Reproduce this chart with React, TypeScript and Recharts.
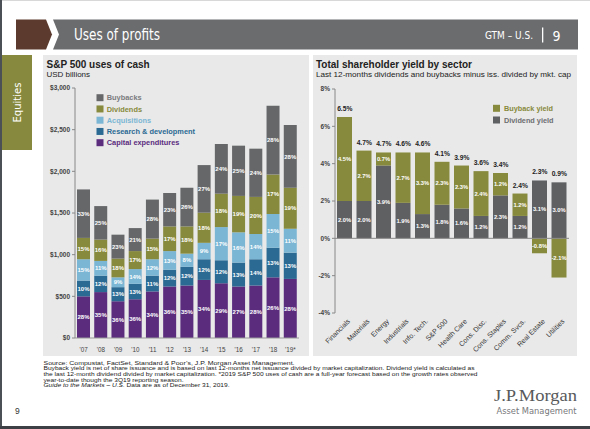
import React from 'react';
import { BarChart, ComposedChart, Bar, Line, XAxis, YAxis, ReferenceLine, LabelList } from 'recharts';

// S&P 500 uses of cash, USD billions
const years = ["'07", "'08", "'09", "'10", "'11", "'12", "'13", "'14", "'15", "'16", "'17", "'18", "'19*"];
const capex = [500, 551, 441, 465, 559, 618, 630, 697, 657, 618, 630, 728, 709];
const research = [189, 197, 169, 185, 189, 201, 224, 248, 276, 287, 315, 355, 315];
const acquisitions = [256, 177, 118, 177, 197, 224, 158, 197, 398, 363, 303, 405, 287];
const dividends = [256, 256, 225, 216, 248, 296, 327, 362, 401, 437, 445, 473, 492];
const buybacks = [582, 402, 287, 276, 468, 401, 464, 571, 596, 603, 579, 827, 753];

// share of total printed inside each segment
const capexPct = [28, 35, 36, 36, 34, 36, 35, 34, 29, 27, 28, 26, 28];
const researchPct = [10, 12, 13, 13, 11, 12, 12, 12, 12, 13, 14, 13, 13];
const acquisitionsPct = [15, 11, 9, 14, 12, 13, 8, 9, 17, 16, 14, 15, 11];
const dividendsPct = [15, 16, 18, 17, 15, 17, 18, 18, 18, 19, 20, 17, 19];
const buybacksPct = [33, 25, 23, 21, 28, 23, 26, 27, 24, 25, 24, 28, 28];
const cashTicks = [0, 500, 1000, 1500, 2000, 2500, 3000];

// Total shareholder yield by sector, %
const sectors = ['Financials', 'Materials', 'Energy', 'Industrials', 'Info. Tech.', 'S&P 500', 'Health Care', 'Cons. Disc.', 'Cons. Staples', 'Comm. Svcs.', 'Real Estate', 'Utilities'];
const dividendYield = [2.0, 2.0, 3.9, 1.9, 1.3, 1.8, 1.6, 1.2, 2.3, 1.2, 3.1, 3.0];
const buybackYield = [4.5, 2.7, 0.7, 2.7, 3.3, 2.3, 2.3, 2.4, 1.2, 1.2, -0.8, -2.1];
const totalYield = [6.5, 4.7, 4.7, 4.6, 4.6, 4.1, 3.9, 3.6, 3.4, 2.4, 2.3, 0.9];
const yieldTicks = [-4, -2, 0, 2, 4, 6, 8];

const C = {
  buy: '#666769',
  div: '#878a3c',
  acq: '#7bb6d4',
  rd: '#2b6a93',
  capex: '#5b2c7e',
  divYield: '#5f6062',
  panel: '#e9e9e9',
};

const SANS = '"Liberation Sans", Arial, sans-serif';
const NARROW = '"DejaVu Sans Condensed", "Liberation Sans Narrow", "Roboto", sans-serif';

const pct = (v: number) => `${v}%`;
const pct1 = (v: number) => `${v.toFixed(1)}%`;

const cashData = years.map((year, i) => ({
  year,
  capex: capex[i],
  research: research[i],
  acquisitions: acquisitions[i],
  dividends: dividends[i],
  buybacks: buybacks[i],
  capexLbl: pct(capexPct[i]),
  researchLbl: pct(researchPct[i]),
  acquisitionsLbl: pct(acquisitionsPct[i]),
  dividendsLbl: pct(dividendsPct[i]),
  buybacksLbl: pct(buybacksPct[i]),
}));

const yieldData = sectors.map((sector, i) => ({
  sector,
  dividend: dividendYield[i],
  buyback: buybackYield[i],
  top: dividendYield[i] + Math.max(buybackYield[i], 0),
  dividendLbl: pct1(dividendYield[i]),
  buybackLbl: pct1(buybackYield[i]),
  totalLbl: pct1(totalYield[i]),
}));

const cashLegend = [
  { name: 'Buybacks', color: C.buy, text: '#7a7b7e' },
  { name: 'Dividends', color: C.div, text: C.div },
  { name: 'Acquisitions', color: C.acq, text: C.acq },
  { name: 'Research & development', color: C.rd, text: C.rd },
  { name: 'Capital expenditures', color: C.capex, text: C.capex },
];

const yieldLegend = [
  { name: 'Buyback yield', color: C.div, text: C.div },
  { name: 'Dividend yield', color: C.divYield, text: '#6d6e71' },
];

const footer = [
  { text: 'Source: Compustat, FactSet, Standard & Poor\u2019s, J.P. Morgan Asset Management.', len: 251 },
  { text: 'Buyback yield is net of share issuance and is based on last 12-months net issuance divided by market capitalization. Dividend yield is calculated as', len: 431 },
  { text: 'the last 12-month dividend divided by market capitalization. *2019 S&P 500 uses of cash are a full-year forecast based on the growth rates observed', len: 434 },
  { text: 'year-to-date though the 3Q19 reporting season.', len: 140 },
];

const segLabel = { fill: '#fff', fontSize: 6, fontWeight: 'bold' as const, fontFamily: SANS };

const SectorTick = (props: any) => {
  const { x, y, payload } = props;
  const ax = x + 4;
  const ay = y + 7;
  return (
    <text x={ax} y={ay} dy="0.35em" transform={`rotate(-45, ${ax}, ${ay})`} textAnchor="end"
      fontSize={7} fill="#333" fontFamily={SANS}>
      {payload.value}
    </text>
  );
};

const Backdrop = () => (
  <svg width={590} height={429} style={{ position: 'absolute', left: 0, top: 0 }}>
    <rect x={0} y={0} width={590} height={429} fill="#fff" />
    <rect x={0} y={0} width={590} height={1} fill="#d8d8d8" />
    <rect x={0} y={0} width={2} height={429} fill="#4b5057" />
    <rect x={0} y={426} width={590} height={3} fill="#3d4146" />

    {/* header band */}
    <polygon points="16,19.5 46,19.5 52,34.5 46,49.5 16,49.5" fill="#5c3b2e" />
    <polygon points="53,19.5 578,19.5 578,49.5 53,49.5 59,34.5" fill="#6b6c6e" />
    <text x={74} y={40} fontSize={15} fill="#fff" fontFamily={NARROW} textLength={86} lengthAdjust="spacingAndGlyphs">Uses of profits</text>
    <text x={485} y={39} fontSize={10.5} fill="#fff" fontFamily={NARROW} textLength={48} lengthAdjust="spacingAndGlyphs">GTM – U.S.</text>
    <rect x={542} y={27.5} width={1.3} height={15} fill="#fff" />
    <text x={552.5} y={40.5} fontSize={14} fill="#fff" fontFamily={NARROW}>9</text>

    {/* section tab */}
    <rect x={2} y={55} width={30} height={95} fill="#878a3e" />
    <text x={0} y={0} transform="translate(21, 102.5) rotate(-90)" textAnchor="middle" fontSize={11}
      fill="#fff" fontFamily={NARROW} textLength={40} lengthAdjust="spacingAndGlyphs">Equities</text>

    {/* panels */}
    <rect x={43} y={55} width={266} height={301} fill={C.panel} />
    <rect x={313} y={55} width={264} height={301} fill={C.panel} />

    <text x={46.5} y={67.5} fontSize={10} fontWeight="bold" fill="#222" fontFamily={SANS}>S&amp;P 500 uses of cash</text>
    <text x={46.5} y={77} fontSize={8} fill="#222" fontFamily={SANS}>USD billions</text>
    <text x={316} y={67.5} fontSize={10} fontWeight="bold" fill="#222" fontFamily={SANS}>Total shareholder yield by sector</text>
    <text x={316} y={77} fontSize={8} fill="#222" fontFamily={SANS} textLength={255} lengthAdjust="spacingAndGlyphs">
      Last 12-months dividends and buybacks minus iss. divided by mkt. cap
    </text>

    {cashLegend.map((l, i) => (
      <g key={l.name}>
        <rect x={96.5} y={94.2 + i * 11.25} width={7} height={7} fill={l.color} />
        <text x={106.7} y={100.4 + i * 11.25} fontSize={7.4} fontWeight="bold" fill={l.text} fontFamily={SANS}>{l.name}</text>
      </g>
    ))}
    {yieldLegend.map((l, i) => (
      <g key={l.name}>
        <rect x={493} y={104.8 + i * 11.7} width={7} height={7} fill={l.color} />
        <text x={504} y={111 + i * 11.7} fontSize={7.3} fontWeight="bold" fill={l.text} fontFamily={SANS}>{l.name}</text>
      </g>
    ))}

    {/* footnotes */}
    {footer.map((f, i) => (
      <text key={i} x={43.5} y={364.7 + i * 5.67} fontSize={5.6} fill="#1a1a1a" fontFamily={SANS}
        textLength={f.len} lengthAdjust="spacingAndGlyphs">{f.text}</text>
    ))}
    <text x={43.5} y={364.7 + 4 * 5.67} fontSize={5.6} fill="#1a1a1a" fontFamily={SANS} textLength={186} lengthAdjust="spacingAndGlyphs">
      <tspan fontStyle="italic">Guide to the Markets – U.S.</tspan> Data are as of December 31, 2019.
    </text>

    <text x={15} y={414} fontSize={8.5} fill="#333" fontFamily={SANS}>9</text>
    <text x={494} y={401} fontSize={17.5} fill="#58595b" fontFamily='"Liberation Serif", "DejaVu Serif", serif'
      textLength={83} lengthAdjust="spacingAndGlyphs">J.P.Morgan</text>
    <text x={496.5} y={414} fontSize={9} fill="#77787b" fontFamily={NARROW} textLength={80} lengthAdjust="spacingAndGlyphs">Asset Management</text>
  </svg>
);

const CashChart = () => (
  <div style={{ position: 'absolute', left: 43, top: 55 }}>
    <BarChart width={266} height={301} data={cashData} barSize={13} margin={{ top: 33, right: 10, bottom: 0, left: 0 }}>
      <XAxis dataKey="year" interval={0} height={18} tickSize={4} tickMargin={6} tickLine={false}
        axisLine={{ stroke: '#999' }} tick={{ fontSize: 6.3, fill: '#444', fontFamily: SANS }} />
      <YAxis domain={[0, 3000]} ticks={cashTicks} width={32} tickSize={3} tickMargin={2}
        axisLine={{ stroke: '#888' }} tickLine={{ stroke: '#888' }}
        tickFormatter={(v: number) => `$${v.toLocaleString('en-US')}`}
        tick={{ fontSize: 6.5, fontWeight: 'bold', fill: '#444', fontFamily: SANS }} />
      <Bar dataKey="capex" stackId="a" fill={C.capex} isAnimationActive={false}>
        <LabelList dataKey="capexLbl" position="center" {...segLabel} />
      </Bar>
      <Bar dataKey="research" stackId="a" fill={C.rd} isAnimationActive={false}>
        <LabelList dataKey="researchLbl" position="center" {...segLabel} />
      </Bar>
      <Bar dataKey="acquisitions" stackId="a" fill={C.acq} isAnimationActive={false}>
        <LabelList dataKey="acquisitionsLbl" position="center" {...segLabel} />
      </Bar>
      <Bar dataKey="dividends" stackId="a" fill={C.div} isAnimationActive={false}>
        <LabelList dataKey="dividendsLbl" position="center" {...segLabel} />
      </Bar>
      <Bar dataKey="buybacks" stackId="a" fill={C.buy} isAnimationActive={false}>
        <LabelList dataKey="buybacksLbl" position="center" {...segLabel} />
      </Bar>
    </BarChart>
  </div>
);

const YieldChart = () => (
  <div style={{ position: 'absolute', left: 313, top: 55 }}>
    <ComposedChart width={264} height={301} data={yieldData} barSize={15} stackOffset="sign"
      margin={{ top: 34, right: 8, bottom: 0, left: 0 }}>
      <XAxis dataKey="sector" interval={0} height={43} tickSize={0} tickMargin={0} tickLine={false}
        axisLine={false} tick={<SectorTick />} />
      <YAxis domain={[-4, 8]} ticks={yieldTicks} width={22} tickSize={3} tickMargin={2}
        axisLine={{ stroke: '#888' }} tickLine={{ stroke: '#888' }}
        tickFormatter={(v: number) => `${v}%`}
        tick={{ fontSize: 6.5, fontWeight: 'bold', fill: '#444', fontFamily: SANS }} />
      <Bar dataKey="dividend" stackId="y" fill={C.divYield} isAnimationActive={false}>
        <LabelList dataKey="dividendLbl" position="center" {...segLabel} fontSize={5.8} />
      </Bar>
      <Bar dataKey="buyback" stackId="y" fill={C.div} isAnimationActive={false}>
        <LabelList dataKey="buybackLbl" position="center" {...segLabel} fontSize={5.8} />
      </Bar>
      <ReferenceLine y={0} stroke="#888" />
      <Line dataKey="top" stroke="none" dot={false} activeDot={false} isAnimationActive={false}>
        <LabelList dataKey="totalLbl" position="top" offset={6} fill="#222" fontSize={6.7} fontWeight="bold" fontFamily={SANS} />
      </Line>
    </ComposedChart>
  </div>
);

export default function App() {
  return (
    <div style={{ position: 'absolute', left: 0, top: 0, width: 590, height: 429, overflow: 'hidden' }}>
      <Backdrop />
      <CashChart />
      <YieldChart />
    </div>
  );
}
